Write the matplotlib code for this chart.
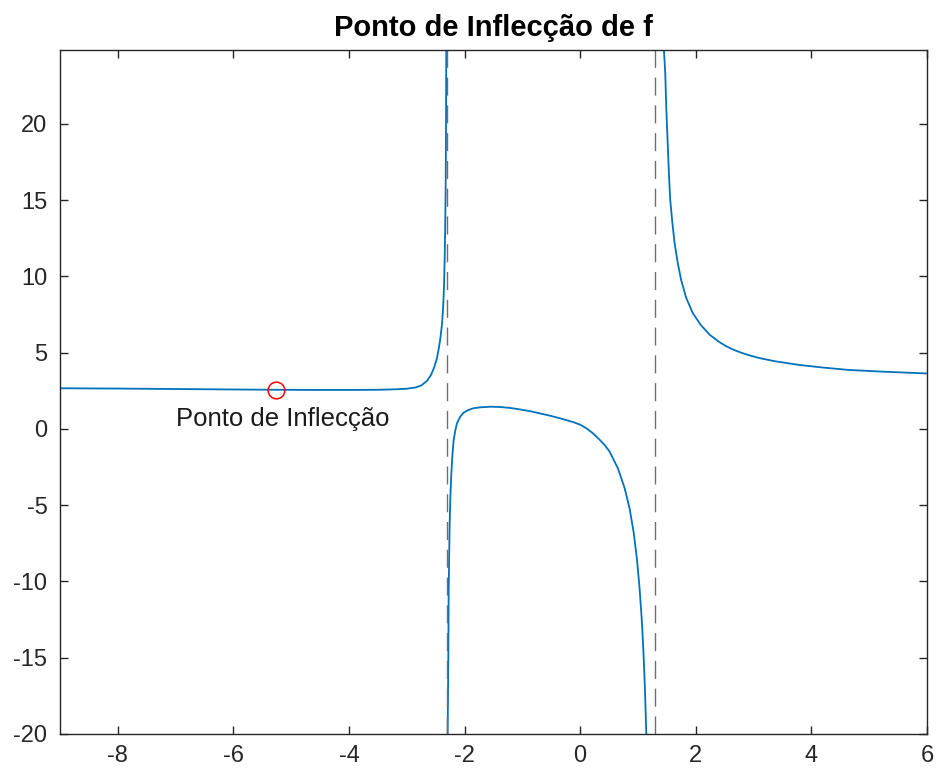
import numpy as np
import matplotlib
matplotlib.use("Agg")
import matplotlib.pyplot as plt

plt.rcParams['font.family'] = ['Liberation Sans', 'DejaVu Sans']
plt.rcParams['axes.unicode_minus'] = False
plt.rcParams['lines.scale_dashes'] = False

# ramo esquerdo (antes da primeira assintota)
x_esq = [-9.0, -8.0, -7.0, -6.0, -5.26, -4.5, -4.0, -3.5, -3.2, -3.0, -2.85, -2.75,
         -2.65, -2.58, -2.53, -2.48, -2.45, -2.42, -2.39, -2.37, -2.355, -2.345,
         -2.335, -2.328, -2.322, -2.318, -2.316]
y_esq = [2.67, 2.65, 2.62, 2.59, 2.57, 2.56, 2.56, 2.57, 2.60, 2.64, 2.72, 2.85,
         3.15, 3.55, 4.0, 4.6, 5.2, 5.9, 6.9, 8.0, 9.4, 11.0,
         13.2, 15.5, 19.0, 23.0, 26.0]

# ramo central (entre as assintotas)
x_meio = [-2.295, -2.293, -2.281, -2.275, -2.258, -2.245, -2.229, -2.21, -2.189,
          -2.16, -2.132, -2.10, -2.074, -2.045, -2.017, -1.931, -1.845, -1.729,
          -1.55, -1.384, -1.212, -1.04, -0.87, -0.695, -0.52, -0.35, -0.12, 0.0,
          0.11, 0.22, 0.34, 0.43, 0.512, 0.655, 0.771, 0.857, 0.926, 0.983, 1.029,
          1.069, 1.098, 1.121, 1.144, 1.155]
y_meio = [-23.0, -20.0, -14.93, -10.56, -6.19, -4.4, -2.91, -1.7, -0.72,
          -0.1, 0.37, 0.62, 0.81, 0.95, 1.07, 1.25, 1.36, 1.42,
          1.46, 1.44, 1.38, 1.28, 1.17, 1.02, 0.87, 0.70, 0.45, 0.28,
          0.04, -0.28, -0.72, -1.08, -1.5, -2.6, -3.9, -5.25, -6.8, -8.55, -10.5,
          -12.7, -14.9, -17.1, -20.0, -23.0]

# ramo direito (depois da segunda assintota)
x_dir = [1.44, 1.449, 1.472, 1.489, 1.512, 1.535, 1.558, 1.593, 1.633, 1.690, 1.748,
         1.834, 1.948, 2.08, 2.24, 2.40, 2.52, 2.638, 2.78, 2.926, 3.1, 3.357,
         3.788, 4.219, 4.650, 5.224, 6.0]
y_dir = [26.0, 24.85, 23.32, 21.13, 18.95, 16.77, 15.02, 13.6, 12.2, 10.85, 9.75,
         8.6, 7.6, 6.85, 6.18, 5.72, 5.44, 5.22, 5.01, 4.83, 4.65, 4.45,
         4.20, 4.02, 3.87, 3.76, 3.64]

assintotas = [-2.3028, 1.3028]
x_infl, y_infl = -5.26, 2.57

fig = plt.figure(figsize=(9.37, 7.79), dpi=100)
ax = fig.add_axes([0.064, 0.0578, 0.9253, 0.878])

azul = '#0072BD'
for xs, ys in [(x_esq, y_esq), (x_meio, y_meio), (x_dir, y_dir)]:
    ax.plot(xs, ys, color=azul, lw=1.3)

for xa in assintotas:
    ax.plot([xa, xa], [-20, 24.85], color='#6e6e6e', lw=1.0, dashes=(13, 7))

ax.plot(x_infl, y_infl, 'o', mfc='none', mec='red', ms=12, mew=1.1)
ax.text(-7.0, 0.2, 'Ponto de Inflecção', fontsize=18.5, color='#1a1a1a', va='baseline')

ax.set_xlim(-9, 6)
ax.set_ylim(-20, 24.85)
ax.set_xticks(np.arange(-8, 7, 2))
ax.set_yticks(np.arange(-20, 21, 5))

cinza = '#262626'
ax.tick_params(direction='in', length=6, width=1.0, colors=cinza,
               labelsize=17, top=True, right=True)
ax.tick_params(axis='x', pad=8)
ax.tick_params(axis='y', pad=9)
for s in ax.spines.values():
    s.set_color(cinza)
    s.set_linewidth(1.0)

ax.set_title('Ponto de Inflecção de f', fontsize=21, fontweight='bold', pad=10)

fig.savefig('out.png', dpi=100)
